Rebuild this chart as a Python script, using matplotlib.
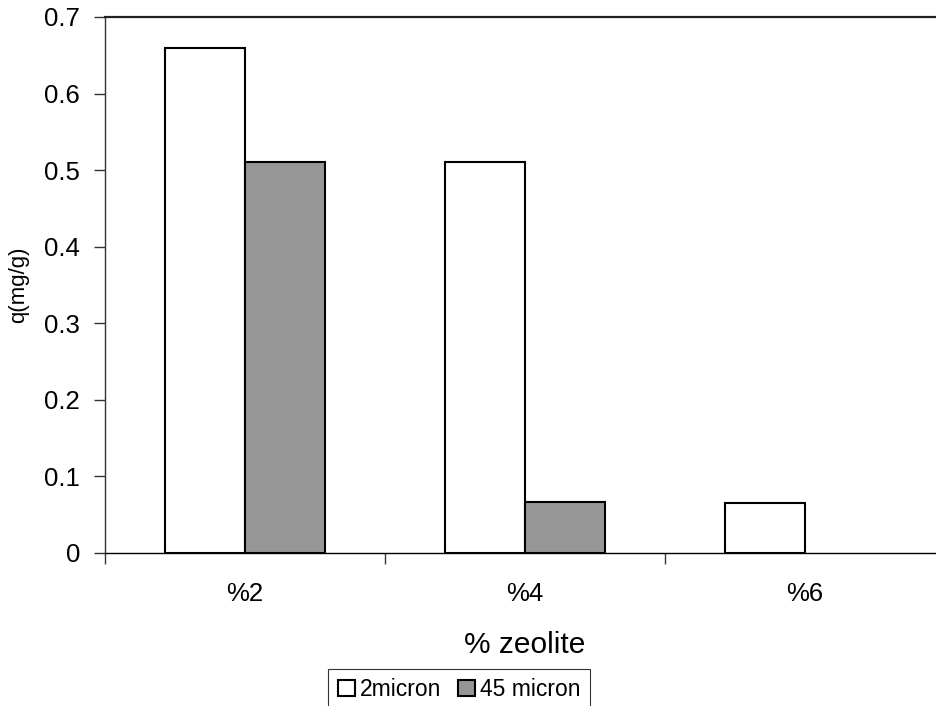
import matplotlib
matplotlib.use("Agg")
import matplotlib.pyplot as plt
import numpy as np
from matplotlib.patches import Patch

plt.rcParams['font.family'] = ['Liberation Sans', 'DejaVu Sans']

categories = ["%2", "%4", "%6"]
series_names = ["2micron", "45 micron"]
values_2micron = [0.66, 0.51, 0.065]
values_45micron = [0.51, 0.066, 0.0]
yticks = [0, 0.1, 0.2, 0.3, 0.4, 0.5, 0.6, 0.7]

W, H = 936, 706
fig = plt.figure(figsize=(W / 100, H / 100), dpi=100)
ax = fig.add_axes([105 / W, 1 - 553 / H, 840 / W, (553 - 17) / H])

x = np.arange(len(categories))
bw = 80 / 280


def edges(vals):
    return ["black" if v > 0 else "none" for v in vals]


ax.bar(x - bw / 2, values_2micron, width=bw, color="white", edgecolor=edges(values_2micron),
       linewidth=1.5, zorder=3)
ax.bar(x + bw / 2, values_45micron, width=bw, color="#969696", edgecolor=edges(values_45micron),
       linewidth=1.5, zorder=3)

ax.set_xlim(-0.5, len(categories) - 0.5)
ax.set_ylim(0, 0.7)
ax.set_yticks(yticks)
ax.set_yticklabels([f"{v:g}" for v in yticks])
ax.set_xticks(x)
ax.set_xticklabels(categories)
ax.set_xticks(np.arange(-0.5, len(categories)), minor=True)

ax.tick_params(axis='y', direction='out', length=8, width=1, pad=10, labelsize=18.5, color='#333333')
ax.tick_params(axis='x', which='major', length=0, pad=21, labelsize=18.5)
ax.tick_params(axis='x', which='minor', direction='out', length=8, width=1, color='#333333')

ax.spines['right'].set_visible(False)
ax.spines['top'].set_linewidth(1.6)
ax.spines['top'].set_color('#222222')
ax.spines['left'].set_linewidth(1.0)
ax.spines['left'].set_color('#333333')
ax.spines['bottom'].set_linewidth(1.0)

ax.set_xlabel("% zeolite", fontsize=21.5, labelpad=18)
fig.text(19 / W, 1 - 285 / H, "q(mg/g)", rotation=90, fontsize=16, ha='center', va='center')

handles = [Patch(facecolor="white", edgecolor="black", linewidth=1.5),
           Patch(facecolor="#969696", edgecolor="black", linewidth=1.5)]
leg = fig.legend(handles, series_names, loc='upper center', bbox_to_anchor=(459 / W, 1 - 669 / H),
                 ncol=2, fontsize=16.5, frameon=True, fancybox=False, edgecolor='black',
                 handlelength=0.74, handleheight=0.74, handletextpad=0.22, columnspacing=0.74,
                 borderpad=0.4, borderaxespad=0)
leg.get_frame().set_linewidth(0.8)

fig.savefig("out.png", dpi=100)
